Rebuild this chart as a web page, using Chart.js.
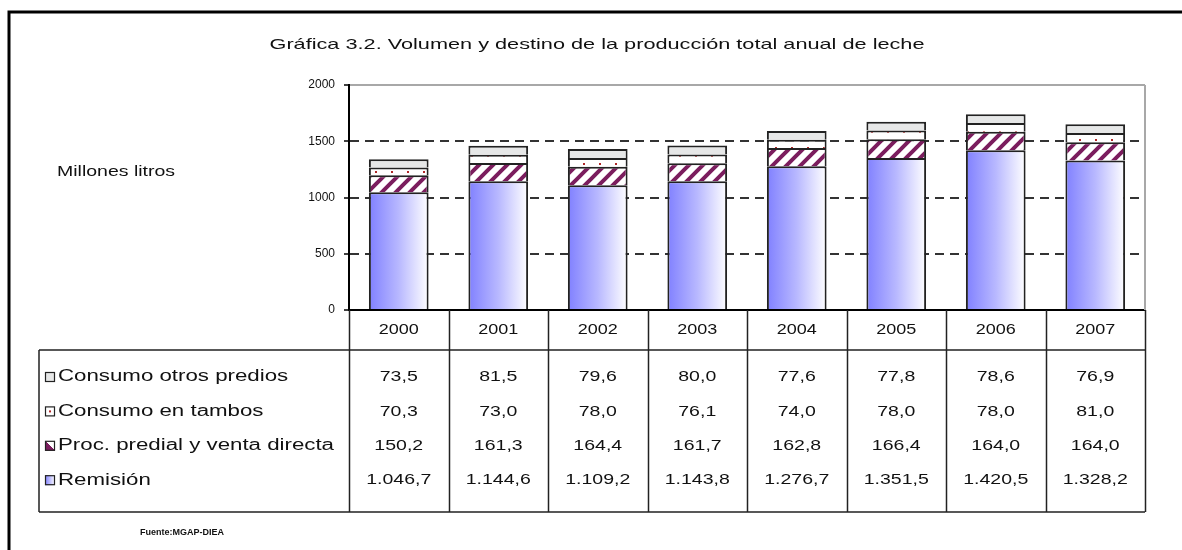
<!DOCTYPE html>
<html><head><meta charset="utf-8">
<script src="https://cdn.jsdelivr.net/npm/chart.js@4.4.0/dist/chart.umd.min.js"></script>
<style>html,body{margin:0;padding:0;background:#fff;}canvas{display:block;}</style>
</head><body>
<canvas id="c" width="1182" height="550"></canvas>
<script>
const categories = ['2000','2001','2002','2003','2004','2005','2006','2007'];
const remision = [1046.7,1144.6,1109.2,1143.8,1276.7,1351.5,1420.5,1328.2];
const procPredial = [150.2,161.3,164.4,161.7,162.8,166.4,164.0,164.0];
const consumoTambos = [70.3,73.0,78.0,76.1,74.0,78.0,78.0,81.0];
const consumoOtros = [73.5,81.5,79.6,80.0,77.6,77.8,78.6,76.9];
const yTicks = [0,500,1000,1500,2000];
const seriesLabels = ['Remisión','Proc. predial y venta directa','Consumo en tambos','Consumo otros predios'];
const titleText = 'Gráfica 3.2. Volumen y destino de la producción total anual de leche';
const yAxisTitle = 'Millones litros';
const sourceText = 'Fuente:MGAP-DIEA';

const FONT = "'Liberation Sans', Arial, sans-serif";

function stripePattern(){
  const s=14, c=document.createElement('canvas'); c.width=s;c.height=s;
  const g=c.getContext('2d'); g.fillStyle='#fff';g.fillRect(0,0,s,s);
  g.strokeStyle='#7b1d5e'; g.lineWidth=4;
  g.beginPath();
  g.moveTo(-s,2*s);g.lineTo(2*s,-s);
  g.moveTo(-s,s);g.lineTo(s,-s);
  g.moveTo(0,2*s);g.lineTo(2*s,0);
  g.stroke();
  return c;
}
function dotPattern(){
  const c=document.createElement('canvas'); c.width=16;c.height=8;
  const g=c.getContext('2d'); g.fillStyle='#fff';g.fillRect(0,0,16,8);
  g.fillStyle='#b02828'; g.fillRect(7,3,2,2);
  return c;
}
const ctxMain = document.getElementById('c').getContext('2d');
const stripes = ctxMain.createPattern(stripePattern(),'repeat');
const dots = ctxMain.createPattern(dotPattern(),'repeat');
const grayFill = '#e6e7e7';
const BAR_PCT = 0.6;

function barHalfWidth(chart){
  const a = chart.chartArea;
  return (a.right - a.left)/categories.length*BAR_PCT/2;
}
function remisionFill(ctx){
  const chart = ctx.chart;
  if (!chart.chartArea || ctx.dataIndex === undefined || !chart.scales.x) return '#8c8cff';
  const cx = chart.scales.x.getPixelForValue(ctx.dataIndex);
  const hw = barHalfWidth(chart);
  if (!isFinite(cx)) return '#8c8cff';
  const g = chart.ctx.createLinearGradient(cx-hw,0,cx+hw,0);
  g.addColorStop(0,'#8080ff'); g.addColorStop(0.5,'#b8b8ff'); g.addColorStop(1,'#ffffff');
  return g;
}

function fmt(v){
  const p = v.toFixed(1).split('.');
  const intPart = p[0].replace(/\B(?=(\d{3})+(?!\d))/g,'.');
  return intPart + ',' + p[1];
}
function textS(g, text, x, y, font, sx, align){
  g.save(); g.font = font; g.textAlign = align||'left'; g.textBaseline='middle';
  g.translate(x,y); g.scale(sx,1); g.fillText(text,0,0); g.restore();
}

const datasets = [
  {label: seriesLabels[0], data: remision, backgroundColor: remisionFill},
  {label: seriesLabels[1], data: procPredial, backgroundColor: stripes},
  {label: seriesLabels[2], data: consumoTambos, backgroundColor: dots},
  {label: seriesLabels[3], data: consumoOtros, backgroundColor: grayFill}
].map(d => Object.assign(d, {borderColor:'#222', borderWidth:{top:2,left:2,right:2,bottom:0}, borderSkipped:false, barPercentage:BAR_PCT, categoryPercentage:1}));

const decor = {
  id:'decor',
  beforeDatasetsDraw(chart){
    const g=chart.ctx, a=chart.chartArea;
    g.save(); g.strokeStyle='#a8a8a8'; g.lineWidth=2;
    g.beginPath(); g.moveTo(a.right, a.top); g.lineTo(a.right, a.bottom); g.stroke();
    g.restore();
  },
  afterDraw(chart){
    const g=chart.ctx, a=chart.chartArea, n=categories.length;
    const colW=(a.right-a.left)/n;
    g.save();
    g.strokeStyle='#000'; g.lineWidth=3;
    g.beginPath(); g.moveTo(9,chart.height+5); g.lineTo(9,12); g.lineTo(chart.width+5,12); g.stroke();
    g.fillStyle='#111';
    g.font='15px '+FONT;
    const tw=g.measureText(titleText).width;
    textS(g,titleText,597,45,'15px '+FONT,655/tw,'center');
    textS(g,yAxisTitle,57,172,'15px '+FONT,1.3,'left');
    const headBottom=a.bottom+40, tBottom=512, tLeft=39;
    g.strokeStyle='#222'; g.lineWidth=1.5;
    g.beginPath();
    for(let k=0;k<=n;k++){ const x=Math.round(a.left+k*colW)+0.5; g.moveTo(x,a.bottom); g.lineTo(x,tBottom); }
    g.moveTo(tLeft,headBottom); g.lineTo(a.right,headBottom);
    g.moveTo(tLeft,tBottom); g.lineTo(a.right,tBottom);
    g.moveTo(tLeft,headBottom); g.lineTo(tLeft,tBottom);
    g.stroke();
    g.fillStyle='#111';
    categories.forEach((c,i)=>{
      const cx=chart.scales.x.getPixelForValue(i);
      textS(g,c,cx,a.bottom+20,'15px '+FONT,1.2,'center');
    });
    const rows=[3,2,1,0];
    g.font='16px '+FONT;
    const lw=g.measureText(seriesLabels[1]).width;
    const lsx=276/lw;
    rows.forEach((di,r)=>{
      const y=377+r*34.4;
      const ds=chart.data.datasets[di];
      g.save();
      let fill=ds.backgroundColor;
      if(typeof fill==='function'){ const gr=g.createLinearGradient(45,0,55,0); gr.addColorStop(0,'#8080ff'); gr.addColorStop(1,'#fff'); fill=gr; }
      if(di===1){ const gr=g.createLinearGradient(45,y+5,55,y-5); gr.addColorStop(0,'#7b1d5e'); gr.addColorStop(0.5,'#7b1d5e'); gr.addColorStop(0.5,'#fff'); fill=gr; }
      if(di===2){ fill='#fff'; }
      g.fillStyle=fill; g.fillRect(45,y-5,10,10);
      if(di===2){ g.fillStyle='#b02828'; g.fillRect(49,y-1,2,2); }
      g.strokeStyle='#222'; g.lineWidth=1.2; g.strokeRect(45.5,y-4.5,9,9);
      g.restore();
      g.fillStyle='#111';
      textS(g,seriesLabels[di],58,y,'16px '+FONT,lsx,'left');
      ds.data.forEach((v,i)=>{
        const cx=chart.scales.x.getPixelForValue(i);
        textS(g,fmt(v),cx,y,'15px '+FONT,1.3,'center');
      });
    });
    textS(g,sourceText,140,533,'bold 9px '+FONT,1.0,'left');
    g.restore();
  }
};

new Chart(document.getElementById('c'), {
  type:'bar',
  data:{labels:categories, datasets},
  options:{
    responsive:false, animation:false, devicePixelRatio:1,
    layout:{padding:{left:289, right:37, top:85, bottom:240}},
    plugins:{legend:{display:false}, tooltip:{enabled:false}, title:{display:false}},
    scales:{
      x:{stacked:true, grid:{display:false}, ticks:{display:false},
         border:{display:true, color:'#000', width:2},
         afterFit(s){ s.height=0; }},
      y:{stacked:true, min:0, max:2000,
         afterBuildTicks(s){ s.ticks = yTicks.map(v=>({value:v})); },
         afterFit(s){ s.width=60; },
         ticks:{padding:9, color:'#111', font:{family:FONT, size:12}, callback:(v)=>String(v)},
         grid:{color:(c)=> c.tick && c.tick.value===0 ? '#000' : (c.tick && c.tick.value===2000 ? '#a8a8a8' : '#333'),
               lineWidth:2, tickLength:5, tickColor:'#000', tickBorderDash:[], tickWidth:1.5},
         border:{display:true, color:'#000', width:2,
                 dash:(c)=> (c.tick && (c.tick.value===0 || c.tick.value===2000)) ? [] : [9,6]}
      }
    }
  },
  plugins:[decor]
});
</script>
</body></html>
